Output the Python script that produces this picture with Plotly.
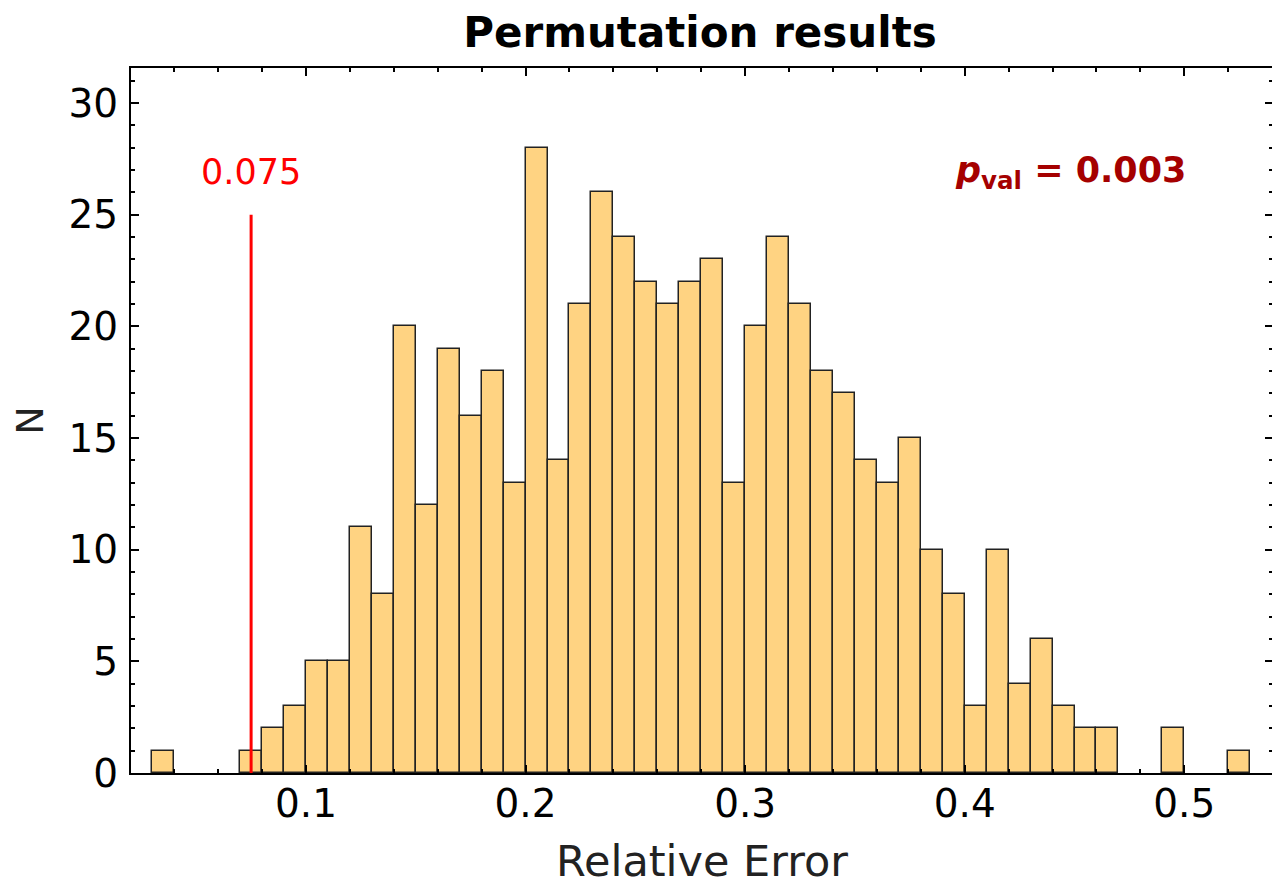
import plotly.graph_objects as go

# Histogram bins (left edges, width 0.01) and counts
bin_left = [0.03, 0.07, 0.08, 0.09, 0.10, 0.11, 0.12, 0.13, 0.14, 0.15, 0.16,
            0.17, 0.18, 0.19, 0.20, 0.21, 0.22, 0.23, 0.24, 0.25, 0.26, 0.27,
            0.28, 0.29, 0.30, 0.31, 0.32, 0.33, 0.34, 0.35, 0.36, 0.37, 0.38,
            0.39, 0.40, 0.41, 0.42, 0.43, 0.44, 0.45, 0.46, 0.49, 0.52]
counts = [1, 1, 2, 3, 5, 5, 11, 8, 20, 12, 19,
          16, 18, 13, 28, 14, 21, 26, 24, 22, 21, 22,
          23, 13, 20, 24, 21, 18, 17, 14, 13, 15, 10,
          8, 3, 10, 4, 6, 3, 2, 2, 2, 1]
bin_width = 0.01

observed_value = 0.075
observed_line_top = 25
p_value_text = "0.003"

x_tickvals = [0.1, 0.2, 0.3, 0.4, 0.5]
x_ticktext = ["0.1", "0.2", "0.3", "0.4", "0.5"]
y_tickvals = [0, 5, 10, 15, 20, 25, 30]

FONT = "DejaVu Sans"

fig = go.Figure()
fig.add_trace(go.Bar(
    x=bin_left, y=counts, width=bin_width, offset=0,
    marker=dict(color="#FFD382", line=dict(color="#222222", width=1.5)),
    showlegend=False,
))
fig.add_trace(go.Scatter(
    x=[observed_value, observed_value], y=[0, observed_line_top],
    mode="lines", line=dict(color="#FF0000", width=3), showlegend=False,
))

fig.add_annotation(x=observed_value, y=26.9, xref="x", yref="y",
                   text=f"{observed_value}", showarrow=False,
                   font=dict(family=FONT, size=35, color="#FF0000"))
fig.add_annotation(x=0.448, y=26.9, xref="x", yref="y",
                   text=f"<b><i>p</i><sub>val</sub> = {p_value_text}</b>", showarrow=False,
                   font=dict(family=FONT, size=35, color="#A50000"))

axis_common = dict(
    showline=True, linecolor="black", linewidth=2, mirror="ticks",
    ticks="inside", ticklen=8, tickwidth=2, tickcolor="black",
    showgrid=False, zeroline=False, automargin=False,
    tickfont=dict(family=FONT, size=39, color="black"),
)

fig.update_xaxes(
    range=[0.0203, 0.5404], tickvals=x_tickvals, ticktext=x_ticktext,
    minor=dict(dtick=0.02, tick0=0.0, ticks="inside", ticklen=4, tickwidth=2, tickcolor="black"),
    title=dict(text="Relative Error", font=dict(family=FONT, size=43, color="#222222"), standoff=21),
    ticklabelstandoff=-5,
    **axis_common,
)
fig.update_yaxes(
    range=[0, 31.57], tickvals=y_tickvals,
    minor=dict(dtick=1, tick0=0, ticks="inside", ticklen=4, tickwidth=2, tickcolor="black"),
    title=dict(text="N", font=dict(family=FONT, size=38, color="#222222"), standoff=16),
    ticklabelstandoff=3,
    **axis_common,
)

# The page body adds an 8 px offset; margins compensate so the plot area
# lands at x 131..1273, y 68..773 in the screenshot.
fig.update_layout(
    width=1280, height=888,
    margin=dict(l=123, r=15, t=60, b=123),
    paper_bgcolor="white", plot_bgcolor="white",
    bargap=0,
    title=dict(text="<b>Permutation results</b>", x=0.5406, xanchor="center",
               y=1 - 24 / 888, yanchor="middle", yref="container",
               font=dict(family=FONT, size=42, color="black")),
)

fig.write_html("out.html")
